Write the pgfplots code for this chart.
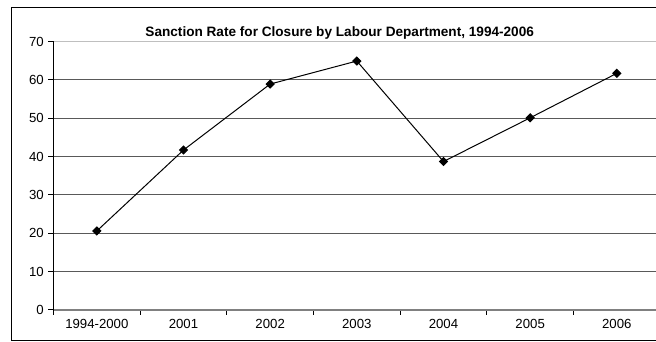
\documentclass[border=0pt]{standalone}
\usepackage{fontspec}
\setmainfont{Liberation Sans}
\usepackage{pgfplots}
\pgfplotsset{compat=1.18}
\begin{document}
\begin{tikzpicture}[x=0.75pt,y=0.75pt]
\useasboundingbox (0,0) rectangle (656,342);
\clip (0,0) rectangle (656,342);
\draw[line width=0.75pt] (11.7,1.5) rectangle (700,334.7);
\node[font=\fontsize{10.2pt}{12pt}\selectfont\bfseries, anchor=base, inner sep=0pt] at (339.7,305.3) {Sanction Rate for Closure by Labour Department, 1994-2006};
\begin{axis}[
  at={(40.125pt,24pt)}, anchor=south west, scale only axis,
  width=455pt, height=201.4pt,
  xmin=-0.5, xmax=6.5, ymin=0, ymax=70,
  axis x line=bottom, axis y line=left,
  x axis line style={-, draw=black!50, line width=1.1pt},
  y axis line style={-, draw=black, line width=0.75pt},
  xtick={0,...,6},
  xticklabels={1994-2000,2001,2002,2003,2004,2005,2006},
  major x tick style={draw=none},
  minor xtick={-0.5,0.5,...,6.5},
  minor x tick style={black, line width=0.75pt},
  ytick={0,10,...,60},
  extra y ticks={70},
  extra y tick style={grid style={black!25, line width=0.75pt}},
  ymajorgrids,
  grid style={black!65, line width=0.75pt},
  tick align=outside,
  major tick length=3.75pt, minor tick length=3.75pt,
  y tick style={black, line width=0.75pt},
  tick label style={font=\fontsize{9.9pt}{11pt}\selectfont, black},
  /pgf/number format/assume math mode=true,
  clip=false,
]
\addplot[black, line width=0.75pt, mark=square*, mark size=2.1pt, mark options={fill=black, rotate=45}] coordinates {
(0,20.6) (1,41.7) (2,58.9) (3,64.9) (4,38.7) (5,50.1) (6,61.7)
};
\end{axis}
\end{tikzpicture}
\end{document}
